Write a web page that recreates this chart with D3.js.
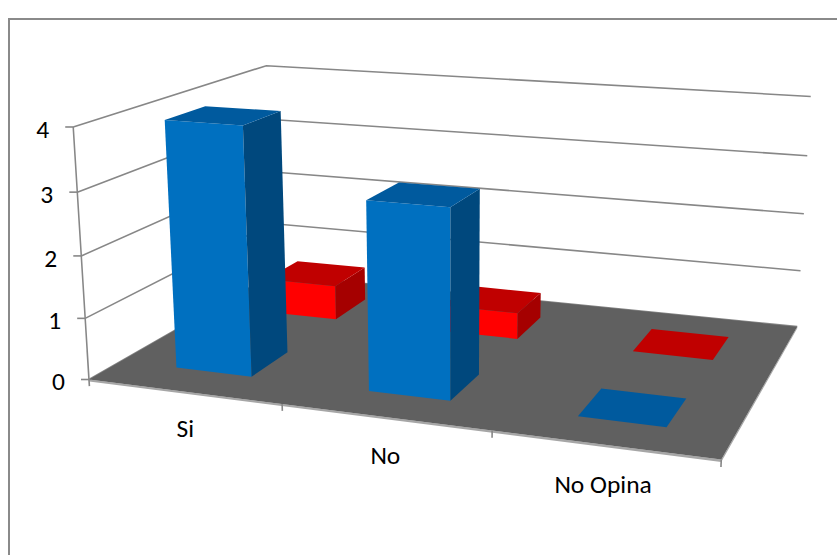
<!DOCTYPE html>
<html><head><meta charset="utf-8">
<script src="https://cdn.jsdelivr.net/npm/d3@7"></script>
<style>html,body{margin:0;padding:0;background:#fff;overflow:hidden}</style>
</head><body>
<svg id="chart" width="837" height="555"></svg>
<script>
// ---- data ----
const categories = ["Si", "No", "No Opina"];
const seriesNames = ["Serie1", "Serie2"];
const serie1 = [4, 3, 0];      // blue, front row
const serie2 = [0.6, 0.45, 0]; // red, back row
const valueTicks = [0, 1, 2, 3, 4];

// ---- camera: perspective projection calibrated on the chart frame (world: x=category, y=value, z=depth) ----
const frameAnchors = [
  [0,0,0, 89,380],[1,0,0, 282,405],[2,0,0, 492,430],[3,0,0, 721,460],
  [3,0,2, 797,326],[3,1,2, 801,271],[3,2,2, 804,213],[3,3,2, 807,156],[3,4,2, 811,97],
  [0,4,0, 73,127],[0,3,0, 77.5,191],[0,2,0, 81.5,256],[0,1,0, 85.5,318],[0,4,2, 266,66]
];
function fitCamera(pts){
  const A=[],b=[];
  for(const [X,Y,Z,u,v] of pts){
    A.push([X,Y,Z,1,0,0,0,0,-u*X,-u*Y,-u*Z]); b.push(u);
    A.push([0,0,0,0,X,Y,Z,1,-v*X,-v*Y,-v*Z]); b.push(v);
  }
  const n=11, M=[];
  for(let i=0;i<n;i++){
    M.push(new Array(n+1).fill(0));
    for(let k=0;k<A.length;k++){
      for(let j=0;j<n;j++) M[i][j]+=A[k][i]*A[k][j];
      M[i][n]+=A[k][i]*b[k];
    }
  }
  for(let i=0;i<n;i++){
    let p=i; for(let r=i+1;r<n;r++) if(Math.abs(M[r][i])>Math.abs(M[p][i])) p=r;
    [M[i],M[p]]=[M[p],M[i]];
    for(let r=0;r<n;r++){ if(r===i) continue; const f=M[r][i]/M[i][i]; for(let c=i;c<=n;c++) M[r][c]-=f*M[i][c]; }
  }
  const P=M.map((r,i)=>r[n]/r[i]);
  return [[P[0],P[1],P[2],P[3]],[P[4],P[5],P[6],P[7]],[P[8],P[9],P[10],1]];
}
const cam = fitCamera(frameAnchors);
function proj(X,Y,Z){
  const w=cam[2][0]*X+cam[2][1]*Y+cam[2][2]*Z+1;
  return [(cam[0][0]*X+cam[0][1]*Y+cam[0][2]*Z+cam[0][3])/w,
          (cam[1][0]*X+cam[1][1]*Y+cam[1][2]*Z+cam[1][3])/w];
}

// ---- scales ----
const x = d3.scaleBand().domain(categories).range([0,3]).paddingInner(0.6).paddingOuter(0.3);
const xc = d3.scaleBand().domain(categories).range([0,3]); // full category slots
const z = d3.scaleBand().domain(seriesNames).range([0,2]).paddingInner(0.6).paddingOuter(0.3);
const y = d3.scaleLinear().domain([0,4]).range([0,4]);
const X0 = 0, X1 = 3, Z0 = 0, Z1 = 2;

const svg = d3.select("#chart");
const line = d3.line();
const poly = pts => "M" + pts.map(p=>p.join(",")).join("L") + "Z";
const GRID = "#878787";

// border
svg.append("rect").attr("x",9).attr("y",19).attr("width",900).attr("height",600)
  .attr("fill","none").attr("stroke","#8a8a8a").attr("stroke-width",2);

// wall gridlines
const gG = svg.append("g");
valueTicks.forEach(t=>{
  const yy=y(t);
  gG.append("path").attr("d", line([proj(X0,yy,Z0),proj(X0,yy,Z1),proj(X1,yy,Z1)]))
    .attr("fill","none").attr("stroke",GRID).attr("stroke-width",1.6);
});

// floor slab
const th = -0.035;
const gF = svg.append("g");
gF.append("path").attr("d", poly([proj(X0,0,Z0),proj(X1,0,Z0),proj(X1,th,Z0),proj(X0,th,Z0)])).attr("fill","#a6a6a6");
gF.append("path").attr("d", poly([proj(X1,0,Z0),proj(X1,0,Z1),proj(X1,th,Z1),proj(X1,th,Z0)])).attr("fill","#a6a6a6");
gF.append("path").attr("d", poly([proj(X0,0,Z0),proj(X1,0,Z0),proj(X1,0,Z1),proj(X0,0,Z1)])).attr("fill","#606060");

// value axis
const gA = svg.append("g");
gA.append("path").attr("d", line([proj(X0,y(4),Z0),proj(X0,-0.11,Z0)]))
  .attr("stroke",GRID).attr("stroke-width",1.6).attr("fill","none");
const FONT = "Calibri, Carlito, Lato, sans-serif";
const FS = 25.5;
valueTicks.forEach(t=>{
  const p=proj(X0,y(t),Z0);
  gA.append("line").attr("x1",p[0]-8).attr("x2",p[0]).attr("y1",p[1]).attr("y2",p[1])
    .attr("stroke",GRID).attr("stroke-width",1.6);
  gA.append("text").attr("x",p[0]-24).attr("y",p[1]+11).attr("text-anchor","end")
    .attr("font-family",FONT).attr("font-size",FS).attr("fill","#000").text(t);
});
// category axis ticks + labels
[1,2,3].forEach(k=>{
  gA.append("path").attr("d", line([proj(k,0,Z0),proj(k,-0.11,Z0)]))
    .attr("stroke",GRID).attr("stroke-width",1.6).attr("fill","none");
});
categories.forEach(c=>{
  const p=proj(xc(c)+xc.bandwidth()/2,-0.6,Z0);
  gA.append("text").attr("x",p[0]).attr("y",p[1]+9).attr("text-anchor","middle")
    .attr("font-family",FONT).attr("font-size",FS).attr("fill","#000").text(c);
});

// bars
const styles = {
  Serie1:{front:"#0070C0", side:"#00487D", top:"#005A9E"},
  Serie2:{front:"#FF0000", side:"#A50000", top:"#C00000"}
};
const bars=[];
categories.forEach((c,i)=>{ bars.push({cat:c, s:"Serie2", v:serie2[i]}); });
categories.forEach((c,i)=>{ bars.push({cat:c, s:"Serie1", v:serie1[i]}); });
const gB = svg.append("g");
bars.forEach(b=>{
  const xa=x(b.cat), xb=xa+x.bandwidth(), za=z(b.s), zb=za+z.bandwidth(), h=y(b.v);
  const st=styles[b.s];
  const g=gB.append("g");
  if(h>0){
    g.append("path").attr("d",poly([proj(xa,0,za),proj(xb,0,za),proj(xb,h,za),proj(xa,h,za)])).attr("fill",st.front);
    g.append("path").attr("d",poly([proj(xb,0,za),proj(xb,0,zb),proj(xb,h,zb),proj(xb,h,za)])).attr("fill",st.side);
  }
  g.append("path").attr("d",poly([proj(xa,h,za),proj(xb,h,za),proj(xb,h,zb),proj(xa,h,zb)])).attr("fill",st.top);
});
</script>
</body></html>
